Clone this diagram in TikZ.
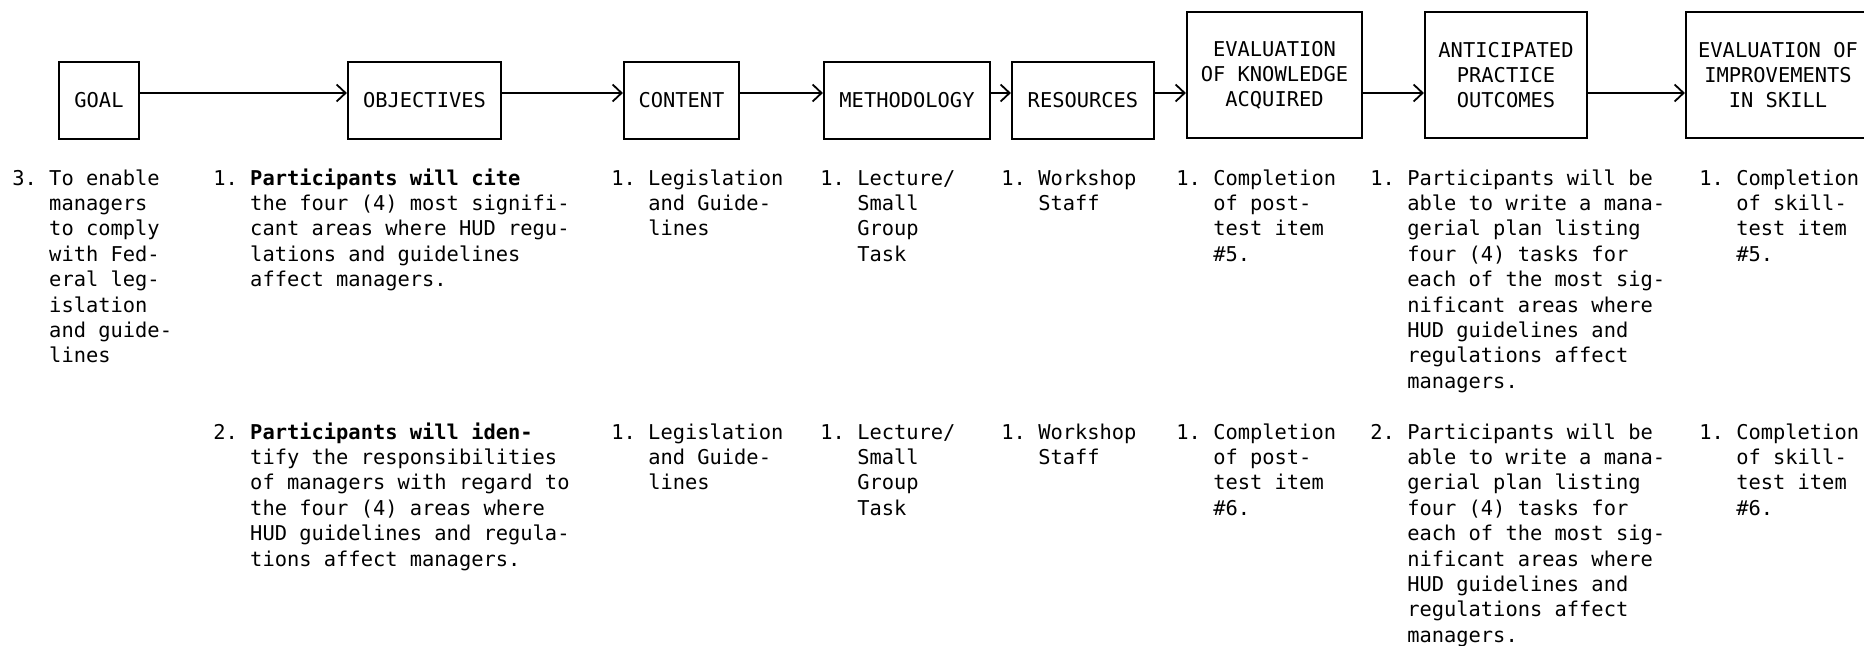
\documentclass[tikz,border=0pt]{standalone}
\usepackage{fontspec}
\usetikzlibrary{arrows.meta}
\newfontfamily\typer{DejaVu Sans Mono}
\newcommand\ind{\hphantom{0.~}}
\begin{document}
\begin{tikzpicture}[x=0.5pt,y=-0.5pt,
  stage/.style={draw, line width=1.1pt, align=center, inner sep=0pt,
    minimum height=38.5pt, font=\typer\fontsize{10.2}{12.4}\selectfont},
  tallstage/.style={stage, minimum height=63pt},
  entry/.style={anchor=north west, align=left, inner sep=0pt,
    font=\typer\fontsize{10.2}{12.7}\selectfont},
  flow/.style={line width=0.9pt, -{Straight Barb[length=4.5pt,width=8.5pt]}}]
  \useasboundingbox (0,0) rectangle (1864,646);
  \coordinate (lane) at (0,93);

  \node[stage, minimum width=40pt] (goal) at (99,100.5) {GOAL};
  \node[stage, minimum width=76.5pt] (objectives) at (424.5,100.5) {OBJECTIVES};
  \node[stage, minimum width=57.5pt] (content) at (681.5,100.5) {CONTENT};
  \node[stage, minimum width=83pt] (method) at (907,100.5) {METHODOLOGY};
  \node[stage, minimum width=71pt] (resources) at (1083,100.5) {RESOURCES};
  \node[tallstage, minimum width=87.5pt] (knowledge) at (1274.5,75) {EVALUATION\\OF KNOWLEDGE\\ACQUIRED};
  \node[tallstage, minimum width=81pt] (outcomes) at (1506,75) {ANTICIPATED\\PRACTICE\\OUTCOMES};
  \node[tallstage, minimum width=92pt] (skill) at (1778,75) {EVALUATION OF\\IMPROVEMENTS\\IN SKILL};

  \draw[flow] (goal.east |- lane) -- (objectives.west |- lane);
  \draw[flow] (objectives.east |- lane) -- (content.west |- lane);
  \draw[flow] (content.east |- lane) -- (method.west |- lane);
  \draw[flow] (method.east |- lane) -- (resources.west |- lane);
  \draw[flow] (resources.east |- lane) -- (knowledge.west |- lane);
  \draw[flow] (knowledge.east |- lane) -- (outcomes.west |- lane);
  \draw[flow] (outcomes.east |- lane) -- (skill.west |- lane);

  \node[entry] (goal1) at (12,167) {\strut3.~To enable\\\ind managers\\\ind to comply\\\ind with Fed-\\\ind eral leg-\\\ind islation\\\ind and guide-\\\ind lines};
  \node[entry] (obj1) at (213,167) {\strut1.~\textbf{Participants will cite}\\\ind the four (4) most signifi-\\\ind cant areas where HUD regu-\\\ind lations and guidelines\\\ind affect managers.};
  \node[entry] (content1) at (611,167) {\strut1.~Legislation\\\ind and Guide-\\\ind lines};
  \node[entry] (method1) at (820,167) {\strut1.~Lecture/\\\ind Small\\\ind Group\\\ind Task};
  \node[entry] (res1) at (1001,167) {\strut1.~Workshop\\\ind Staff};
  \node[entry] (know1) at (1176,167) {\strut1.~Completion\\\ind of post-\\\ind test item\\\ind \#5.};
  \node[entry] (out1) at (1370,167) {\strut1.~Participants will be\\\ind able to write a mana-\\\ind gerial plan listing\\\ind four (4) tasks for\\\ind each of the most sig-\\\ind nificant areas where\\\ind HUD guidelines and\\\ind regulations affect\\\ind managers.};
  \node[entry] (skill1) at (1699,167) {\strut1.~Completion\\\ind of skill-\\\ind test item\\\ind \#5.};

  \node[entry] (obj2) at (213,421) {\strut2.~\textbf{Participants will iden-}\\\ind tify the responsibilities\\\ind of managers with regard to\\\ind the four (4) areas where\\\ind HUD guidelines and regula-\\\ind tions affect managers.};
  \node[entry] (content2) at (611,421) {\strut1.~Legislation\\\ind and Guide-\\\ind lines};
  \node[entry] (method2) at (820,421) {\strut1.~Lecture/\\\ind Small\\\ind Group\\\ind Task};
  \node[entry] (res2) at (1001,421) {\strut1.~Workshop\\\ind Staff};
  \node[entry] (know2) at (1176,421) {\strut1.~Completion\\\ind of post-\\\ind test item\\\ind \#6.};
  \node[entry] (out2) at (1370,421) {\strut2.~Participants will be\\\ind able to write a mana-\\\ind gerial plan listing\\\ind four (4) tasks for\\\ind each of the most sig-\\\ind nificant areas where\\\ind HUD guidelines and\\\ind regulations affect\\\ind managers.};
  \node[entry] (skill2) at (1699,421) {\strut1.~Completion\\\ind of skill-\\\ind test item\\\ind \#6.};
\end{tikzpicture}
\end{document}
